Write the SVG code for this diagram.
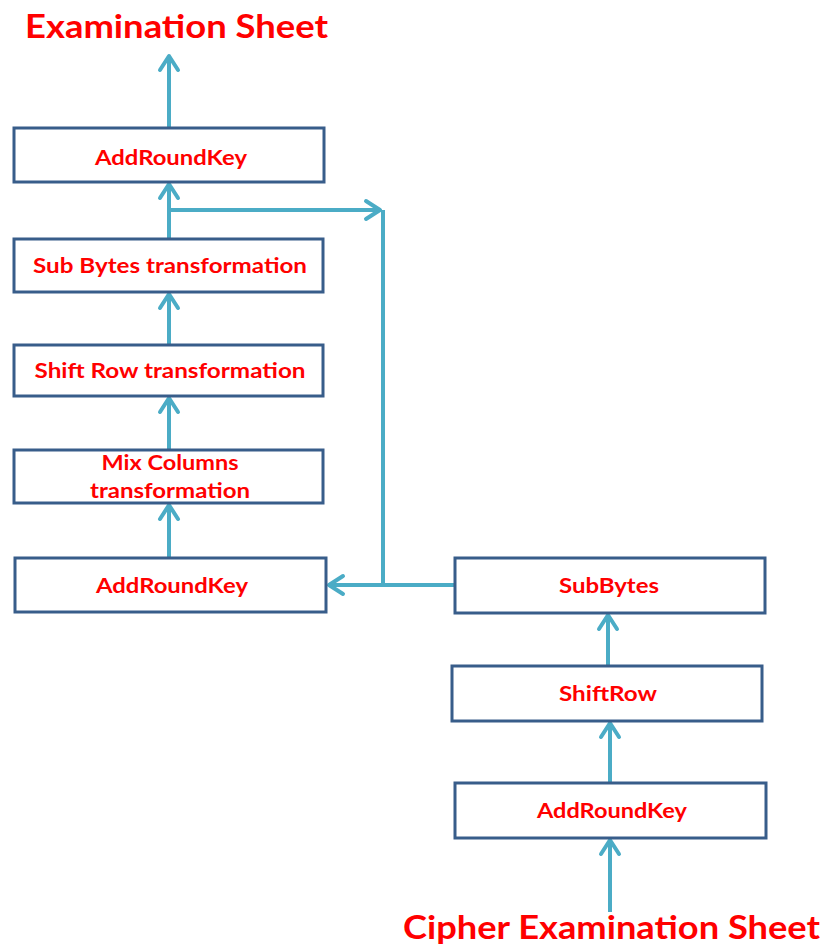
<svg xmlns="http://www.w3.org/2000/svg" width="824" height="945" viewBox="0 0 824 945">
  <style>
    .box rect { fill: #ffffff; stroke: #385D8A; stroke-width: 3; }
    .label { font-family: Lato, "Open Sans", "Liberation Sans", sans-serif; font-weight: bold; font-size: 20px; fill: #FF0000; text-anchor: middle; }
    .title { font-family: Lato, "Open Sans", "Liberation Sans", sans-serif; font-weight: bold; font-size: 32px; fill: #FF0000; }
    .wire { fill: none; stroke: #4BACC6; stroke-width: 4; }
  </style>
  <defs>
    <marker id="head" markerUnits="userSpaceOnUse" markerWidth="24" markerHeight="24" viewBox="-18 -12 20 24" refX="0" refY="0" orient="auto">
      <path d="M-14,-9 L0,0 L-14,9" fill="none" stroke="#4BACC6" stroke-width="4" stroke-linecap="round" stroke-linejoin="round"/>
    </marker>
  </defs>

  <text class="title" x="25" y="38" textLength="303" lengthAdjust="spacingAndGlyphs">Examination Sheet</text>
  <text class="title" x="403" y="939" textLength="417" lengthAdjust="spacingAndGlyphs">Cipher Examination Sheet</text>

  <g id="connectors">
    <path class="wire" d="M169,127 V56" marker-end="url(#head)"/>
    <path class="wire" d="M169,238 V184" marker-end="url(#head)"/>
    <path class="wire" d="M169,210 H380" marker-end="url(#head)"/>
    <path class="wire" d="M383,210 V585"/>
    <path class="wire" d="M455,585 H329" marker-end="url(#head)"/>
    <path class="wire" d="M169,344 V294" marker-end="url(#head)"/>
    <path class="wire" d="M169,449 V398" marker-end="url(#head)"/>
    <path class="wire" d="M169,557 V505" marker-end="url(#head)"/>
    <path class="wire" d="M608,666 V615" marker-end="url(#head)"/>
    <path class="wire" d="M610,783 V723" marker-end="url(#head)"/>
    <path class="wire" d="M610,912 V840" marker-end="url(#head)"/>
  </g>

  <g id="addroundkey-final" class="box">
    <rect x="14" y="128" width="310" height="54"/>
    <text class="label" x="171" y="165" textLength="152" lengthAdjust="spacingAndGlyphs">AddRoundKey</text>
  </g>
  <g id="subbytes-transformation" class="box">
    <rect x="14" y="239" width="309" height="53"/>
    <text class="label" x="170" y="273" textLength="274" lengthAdjust="spacingAndGlyphs">Sub Bytes transformation</text>
  </g>
  <g id="shiftrow-transformation" class="box">
    <rect x="14" y="345" width="309" height="51"/>
    <text class="label" x="170" y="378" textLength="271" lengthAdjust="spacingAndGlyphs">Shift Row transformation</text>
  </g>
  <g id="mixcolumns-transformation" class="box">
    <rect x="14" y="450" width="309" height="53"/>
    <text class="label" x="170" y="470" textLength="137" lengthAdjust="spacingAndGlyphs">Mix Columns</text>
    <text class="label" x="170" y="498" textLength="160" lengthAdjust="spacingAndGlyphs">transformation</text>
  </g>
  <g id="addroundkey-round" class="box">
    <rect x="15" y="558" width="311" height="54"/>
    <text class="label" x="172" y="593" textLength="152" lengthAdjust="spacingAndGlyphs">AddRoundKey</text>
  </g>
  <g id="subbytes" class="box">
    <rect x="455" y="558" width="310" height="55"/>
    <text class="label" x="609" y="593" textLength="100" lengthAdjust="spacingAndGlyphs">SubBytes</text>
  </g>
  <g id="shiftrow" class="box">
    <rect x="452" y="666" width="310" height="55"/>
    <text class="label" x="608" y="701" textLength="98" lengthAdjust="spacingAndGlyphs">ShiftRow</text>
  </g>
  <g id="addroundkey-initial" class="box">
    <rect x="455" y="783" width="311" height="55"/>
    <text class="label" x="612" y="818" textLength="150" lengthAdjust="spacingAndGlyphs">AddRoundKey</text>
  </g>
</svg>
